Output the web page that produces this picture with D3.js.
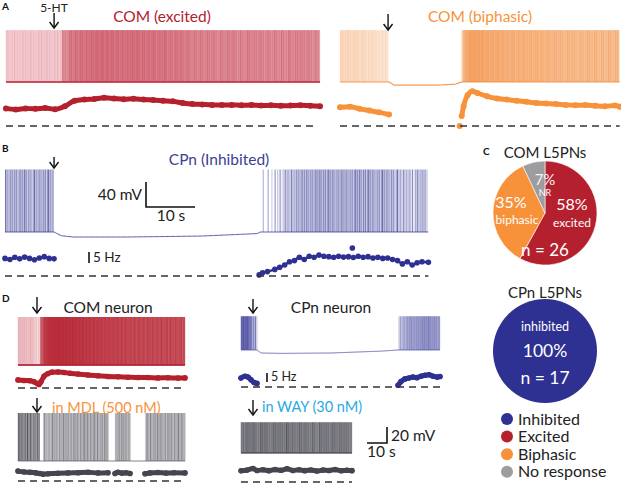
<!DOCTYPE html>
<html><head><meta charset="utf-8">
<script src="https://cdn.jsdelivr.net/npm/d3@7"></script>
<style>body{margin:0;background:#fff}svg{display:block}text{font-family:Lato,"Open Sans",sans-serif}</style>
</head><body><svg id="c" width="621" height="483"></svg>
<script>
// ---------------- DATA ----------------
// firing-rate series (segments of [time s, rate Hz])
const comExcitedRate = [[[0,8],[2,7.5],[4,8],[6,7.8],[8,8.2],[10,7.6],[12,9],[14,11.5],[16,12],[18,12.3],[20,12.8],[22,12.5],[24,12.2],[26,12.4],[28,12],[30,11.8],[32,11.5],[34,11.2],[36,10.5],[38,10],[40,9.8],[42,9.6],[44,9.5],[46,9.6],[48,9.4],[50,9.5],[52,9.3],[54,9.4],[56,9.2],[58,9.3],[60,9.4],[62,9.2],[64,9.0]]];
const comBiphasicRate = [
  [[0,8.5],[2,8.8],[4,7.8],[6,7],[8,6.2],[10,5.2]],
  [[24.4,0]],
  [[24.8,4.5],[25.2,9],[26,14],[27,15.8],[28,15],[30,13.5],[32,12.5],[34,12],[36,11.5],[38,11],[40,10.5],[42,10.2],[44,10],[46,9.6],[48,9.4],[50,9.5],[52,9.2],[54,9],[56,9.3],[57,8.8]]
];
const cpnInhibitedRate = [
  [[0,8],[1,7.5],[2,8.5],[3,7.8],[4,8.6],[5,8],[6,7.4],[7,8.2],[8,8.8],[9,8],[10,7.8]],
  [[51.8,0.5],[52.5,1.5],[53.5,2],[55,3],[56,4],[57,5],[58,6.5],[59,7],[60,8.5],[61,7.5],[62,9],[63,8.5],[64,9.5],[65,9],[66,8.8],[67,8.5],[68,9],[69,8.6],[70,8.8],[71,8.4],[72,9],[73,8.5],[74,8.8],[75,8.2],[76,8.5],[77,8],[78,8.2],[79,7.5],[80,7],[81,5.5],[82,6.5],[83,5],[84,6],[85,6.5],[86.3,6.2]],
  [[70.8,12.7]]
];
const comNeuronRate = [[[0,4.5],[3,4.2],[6,4.0],[8,3.5],[9.5,2.5],[10.5,2],[11.5,3.5],[13,6.5],[15,8],[17,8.8],[20,8.9],[23,8.6],[26,8.2],[30,7.8],[35,7.2],[40,6.8],[45,6.4],[50,6.2],[55,6],[60,5.8],[65,5.8],[70,5.6],[75,5.7],[80,5.5],[83.5,5.6]]];
const comMdlRate = [
  [[0,5.5],[3,5],[6,4.8],[9,4.5],[11,4.2]],
  [[12.5,3.8],[15,4],[20,4.3],[25,4.5],[30,4.6],[35,4.8],[40,4.5],[45,4.6]],
  [[48.5,4.2],[50,4.8],[52,4.4],[54,4.6],[56,4.2]],
  [[63.5,4],[66,4.5],[70,4.7],[74,4.4],[78,4.6],[83.5,4.5]]
];
const cpnNeuronRate = [
  [[0,5],[2,6],[3.5,5.5],[5,4],[6.5,2.5],[8,2]],
  [[78.5,1],[80,3],[82,4.5],[84,5],[86,5.5],[88,5.2],[90,6],[92,6.5],[94,6.8],[96,6],[98,5.5],[99.5,5.8]]
];
const cpnWayRate = [[[0,6.2],[3,6.6],[6,7.5],[8,6.4],[11,6.8],[14,6.3],[17,6.9],[20,6.5],[23,7.3],[26,6.4],[29,6.8],[32,6.3],[35,6.7],[38,6.1],[41,6.6],[44,6.4],[47,6.9],[50,6.2],[53,6.5],[55.5,6.3]]];

// membrane baseline (time s, mV relative to rest)
const comExcitedBase = [[0,0],[64,0]];
const comBiphasicBase = [[0,0],[10,0],[11,-5],[20,-5],[23.5,-3.5],[24.8,0],[57,0]];
const cpnInhibitedBase = [[0,0],[10,0],[11.5,-6],[14,-8],[25,-8],[40,-6.5],[51.5,-2.5],[52,0],[86.3,0]];
const comNeuronBase = [[0,0],[83.5,0]];
const comMdlBase = [[0,0],[83.5,0]];
const cpnNeuronBase = [[0,0],[8,0],[10,-4],[20,-4.5],[45,-4],[60,-2.5],[70,-1.5],[78.5,0],[99.5,0]];
const cpnWayBase = [[0,0],[55.5,0]];

// spike amplitude (mV), recording duration (s), drug onset (s)
const spikeAmp = {comExc:83, comBip:83, cpnInh:100, comN:64, mdl:64, cpnN:45, way:41};
const duration = {comExc:64, comBip:57, cpnInh:86.3, comN:83.5, mdl:83.5, cpnN:99.5, way:55.5};
const drugOnset = {comExc:9.8, comBip:9.8, cpnInh:10, comN:9.5, mdl:9.5, cpnN:6, way:6};

// pie data
const comCategories = ["excited","biphasic","NR"];
const comPercent = [58,35,7];
const comN = 26;
const cpnCategories = ["inhibited"];
const cpnPercent = [100];
const cpnN = 17;
const legendLabels = ["Inhibited","Excited","Biphasic","No response"];

// ---------------- STYLE ----------------
const C = {red:"#b5202e", orange:"#f7923a", navy:"#2e3192", gray:"#9d9d9f", dgray:"#45454d", cyan:"#29a9e0"};
const svg = d3.select("#c");

function lerpScale(arr){ return d3.scaleLinear().domain(arr.map(d=>d[0])).range(arr.map(d=>d[1])).clamp(true); }

function genSpikes(segs, density){
  const out=[];
  segs.forEach(seg=>{
    if(seg.length<2) return;
    const r = lerpScale(seg);
    let acc=0.5; const dt=0.005;
    for(let t=seg[0][0]; t<=seg[seg.length-1][0]; t+=dt){
      acc += r(t)*dt*density;
      if(acc>=1){ out.push(t); acc-=1; }
    }
  });
  return out;
}
const opPattern=[1,0.55,0.8,0.45,0.95,0.6,0.7,0.4,0.85,0.5,0.9,0.35,0.75];

function arrow(x,y1,y2){
  svg.append("line").attr("x1",x).attr("x2",x).attr("y1",y1).attr("y2",y2).attr("stroke","#111").attr("stroke-width",1.4);
  svg.append("path").attr("d",`M${x-4.5},${y2-6}L${x},${y2}L${x+4.5},${y2-6}`).attr("fill","none").attr("stroke","#111").attr("stroke-width",1.4);
}

function drawTrace(cfg){
  const g = svg.append("g");
  const x = d3.scaleLinear().domain([0,cfg.tMax]).range([cfg.x0,cfg.x1]);
  const yV = d3.scaleLinear().domain([0,cfg.amp]).range([cfg.yBase, cfg.yBase-cfg.amp*cfg.vpx]);
  const base = lerpScale(cfg.base);
  const spikes = genSpikes(cfg.rate, cfg.density);
  g.selectAll("line.sp").data(spikes).join("line")
    .attr("x1",d=>x(d)).attr("x2",d=>x(d))
    .attr("y1",d=>yV(base(d))).attr("y2",d=>yV(cfg.amp))
    .attr("stroke",d=>d<cfg.preEnd?cfg.preColor:cfg.color)
    .attr("stroke-width",1)
    .attr("stroke-opacity",(d,i)=>Math.min(1,(d<cfg.preEnd?cfg.preOp:cfg.op)*opPattern[i%opPattern.length]));
  // baseline membrane potential
  const pts = [];
  for(let t=0;t<=cfg.tMax;t+=0.25) pts.push(t);
  g.append("path").attr("d",d3.line().x(t=>x(t)).y(t=>yV(base(t)))(pts))
    .attr("fill","none").attr("stroke",cfg.baseColor||cfg.color).attr("stroke-width",cfg.baseW||1.2).attr("stroke-opacity",0.85);
  // rate
  const yR = d3.scaleLinear().domain([0,20]).range([cfg.rZero, cfg.rZero-20*cfg.hzpx]);
  cfg.rate.forEach(seg=>{
    if(seg.length>1) g.append("path").attr("d",d3.line().x(d=>x(d[0])).y(d=>yR(d[1])).curve(d3.curveMonotoneX)(seg))
      .attr("fill","none").attr("stroke",cfg.rateColor).attr("stroke-width",cfg.rateW).attr("stroke-linecap","round").attr("stroke-linejoin","round");
    g.selectAll(null).data(seg).join("circle").attr("cx",d=>x(d[0])).attr("cy",d=>yR(d[1])).attr("r",cfg.dotR).attr("fill",cfg.rateColor);
  });
  // zero line
  g.append("line").attr("x1",cfg.x0).attr("x2",cfg.dashEnd||cfg.x1).attr("y1",cfg.rZero).attr("y2",cfg.rZero)
    .attr("stroke","#333").attr("stroke-width",1.3).attr("stroke-dasharray","7,5");
  // drug arrow
  arrow(x(cfg.onset), cfg.arrowY[0], cfg.arrowY[1]);
  return {x, yV, yR};
}

// ---------- Panel A ----------
drawTrace({x0:6,x1:320,tMax:duration.comExc,yBase:82,vpx:0.625,amp:spikeAmp.comExc,base:comExcitedBase,rate:comExcitedRate,density:1,
  color:"#c33346",preColor:"#e07e8a",preEnd:11.4,op:0.6,preOp:0.5,rZero:126,hzpx:2.2,rateColor:C.red,rateW:5,dotR:3,onset:drugOnset.comExc,arrowY:[13,28],dashEnd:316,baseW:2});
drawTrace({x0:340,x1:340+duration.comBip*4.906,tMax:duration.comBip,yBase:82,vpx:0.625,amp:spikeAmp.comBip,base:comBiphasicBase,rate:comBiphasicRate,density:1,
  color:"#f28a3a",preColor:"#f6ad76",preEnd:10,op:0.6,preOp:0.5,rZero:126,hzpx:2.2,rateColor:C.orange,rateW:5,dotR:3,onset:drugOnset.comBip,arrowY:[14,30],baseW:1.2});
svg.append("text").attr("x",54).attr("y",12).attr("text-anchor","middle").attr("font-size",12).attr("fill","#222").text("5-HT");
svg.append("text").attr("x",162).attr("y",22).attr("text-anchor","middle").attr("font-size",15.5).attr("fill",C.red).text("COM (excited)");
svg.append("text").attr("x",480).attr("y",22).attr("text-anchor","middle").attr("font-size",15.5).attr("fill",C.orange).text("COM (biphasic)");

// ---------- Panel B ----------
drawTrace({x0:5,x1:5+duration.cpnInh*4.906,tMax:duration.cpnInh,yBase:232,vpx:0.625,amp:spikeAmp.cpnInh,base:cpnInhibitedBase,rate:cpnInhibitedRate,density:0.55,
  color:"#3b3d96",preColor:"#3b3d96",preEnd:0,op:0.75,preOp:0.75,rZero:276,hzpx:2.2,rateColor:C.navy,rateW:2.5,dotR:2.8,onset:drugOnset.cpnInh,arrowY:[157,168],baseW:1});
svg.append("text").attr("x",219).attr("y",165).attr("text-anchor","middle").attr("font-size",15.5).attr("fill","#3d3e95").text("CPn (Inhibited)");
// scale bars
svg.append("path").attr("d","M146,182V207H195").attr("fill","none").attr("stroke","#111").attr("stroke-width",1.6);
svg.append("text").attr("x",142).attr("y",200).attr("text-anchor","end").attr("font-size",15.5).attr("fill","#222").text("40 mV");
svg.append("text").attr("x",171).attr("y",221).attr("text-anchor","middle").attr("font-size",15.5).attr("fill","#222").text("10 s");
svg.append("line").attr("x1",89).attr("x2",89).attr("y1",252).attr("y2",263).attr("stroke","#111").attr("stroke-width",1.6);
svg.append("text").attr("x",93).attr("y",262).attr("font-size",13.5).attr("fill","#222").text("5 Hz");

// ---------- Panel D ----------
drawTrace({x0:18,x1:18+duration.comN*2,tMax:duration.comN,yBase:365,vpx:0.75,amp:spikeAmp.comN,base:comNeuronBase,rate:comNeuronRate,density:1,
  color:"#b5202e",preColor:"#dd8891",preEnd:11,op:0.7,preOp:0.55,rZero:388,hzpx:1.8,rateColor:C.red,rateW:5,dotR:2.8,onset:drugOnset.comN,arrowY:[297,313],baseW:2});
drawTrace({x0:18,x1:18+duration.mdl*2,tMax:duration.mdl,yBase:461,vpx:0.75,amp:spikeAmp.mdl,base:comMdlBase,rate:comMdlRate,density:0.55,
  color:"#5e5e68",preColor:"#34343e",preEnd:11,op:0.75,preOp:0.8,rZero:481,hzpx:1.8,rateColor:C.dgray,rateW:5,dotR:2.8,onset:drugOnset.mdl,arrowY:[398,412],baseW:1});
drawTrace({x0:241,x1:241+duration.cpnN*2,tMax:duration.cpnN,yBase:350,vpx:0.75,amp:spikeAmp.cpnN,base:cpnNeuronBase,rate:cpnNeuronRate,density:0.7,
  color:"#5557a8",preColor:"#2e3192",preEnd:8,op:0.6,preOp:0.8,rZero:387,hzpx:1.8,rateColor:C.navy,rateW:5,dotR:2.8,onset:drugOnset.cpnN,arrowY:[299,313],baseW:1});
drawTrace({x0:241,x1:241+duration.way*2,tMax:duration.way,yBase:453,vpx:0.75,amp:spikeAmp.way,base:cpnWayBase,rate:cpnWayRate,density:0.6,
  color:"#45454e",preColor:"#45454e",preEnd:0,op:0.75,preOp:0.75,rZero:482,hzpx:1.8,rateColor:C.dgray,rateW:5,dotR:2.8,onset:drugOnset.way,arrowY:[400,415],baseW:1.5});
svg.append("text").attr("x",108).attr("y",313).attr("text-anchor","middle").attr("font-size",15.5).attr("fill","#222").text("COM neuron");
svg.append("text").attr("x",52).attr("y",413).attr("font-size",14.5).attr("fill",C.orange).text("in MDL (500 nM)");
svg.append("text").attr("x",331).attr("y",313).attr("text-anchor","middle").attr("font-size",15.5).attr("fill","#222").text("CPn neuron");
svg.append("text").attr("x",262).attr("y",412).attr("font-size",14.5).attr("fill",C.cyan).text("in WAY (30 nM)");
svg.append("line").attr("x1",267).attr("x2",267).attr("y1",373).attr("y2",382).attr("stroke","#111").attr("stroke-width",1.6);
svg.append("text").attr("x",271).attr("y",381).attr("font-size",12.5).attr("fill","#222").text("5 Hz");
svg.append("path").attr("d","M387,427V443H367").attr("fill","none").attr("stroke","#111").attr("stroke-width",1.6);
svg.append("text").attr("x",391).attr("y",441).attr("font-size",15.5).attr("fill","#222").text("20 mV");
svg.append("text").attr("x",367).attr("y",457).attr("font-size",15.5).attr("fill","#222").text("10 s");

// panel letters
[["A",2,10],["B",2,152],["C",483,155],["D",2,302]].forEach(([t,x,y])=>
  svg.append("text").attr("x",x).attr("y",y).attr("font-family","Liberation Sans, Arial, sans-serif").attr("font-weight","bold").attr("font-size",10).attr("fill","#111").text(t));

// ---------- Panel C ----------
const pieColors = {excited:C.red, biphasic:C.orange, NR:C.gray, inhibited:C.navy};
const pie = d3.pie().sort(null).value(d=>d.v);
const cx=545, cy1=213, cy2=351, R=52;
const arc = d3.arc().innerRadius(0).outerRadius(R);
const comData = comCategories.map((c,i)=>({c, v:comPercent[i]}));
const g1 = svg.append("g").attr("transform",`translate(${cx},${cy1})`);
g1.selectAll("path").data(pie(comData)).join("path").attr("d",arc).attr("fill",d=>pieColors[d.data.c]).attr("stroke","#fff").attr("stroke-width",0.6);
svg.append("text").attr("x",cx).attr("y",158).attr("text-anchor","middle").attr("font-size",15).attr("fill","#222").text("COM L5PNs");
const lab = (x,y,s,t,fill)=>svg.append("text").attr("x",x).attr("y",y).attr("text-anchor","middle").attr("font-size",s).attr("fill",fill||"#fff").text(t);
lab(cx+27,210,16,comPercent[0]+"%"); lab(cx+27,227,12,comCategories[0]);
lab(cx-34,208,16,comPercent[1]+"%"); lab(cx-28,224,12,comCategories[1]);
lab(cx,185,15,comPercent[2]+"%","#f4f4f4"); lab(cx,196,9,comCategories[2]);
lab(cx,256,17,"n = "+comN);
svg.append("text").attr("x",cx).attr("y",298).attr("text-anchor","middle").attr("font-size",15).attr("fill","#222").text("CPn  L5PNs");
const g2 = svg.append("g").attr("transform",`translate(${cx},${cy2})`);
g2.selectAll("path").data(pie(cpnCategories.map((c,i)=>({c,v:cpnPercent[i]})))).join("path").attr("d",arc).attr("fill",d=>pieColors[d.data.c]);
lab(cx,331,12.5,cpnCategories[0]); lab(cx,357,17.5,cpnPercent[0]+"%"); lab(cx,384,17.5,"n = "+cpnN);
// legend
const legColors=[C.navy,C.red,C.orange,C.gray];
const lg = svg.append("g");
legendLabels.forEach((t,i)=>{
  const y = 419 + i*17.6;
  lg.append("circle").attr("cx",507).attr("cy",y).attr("r",6).attr("fill",legColors[i]);
  lg.append("text").attr("x",518).attr("y",y+5.5).attr("font-size",16).attr("fill","#222").text(t);
});
</script></body></html>
